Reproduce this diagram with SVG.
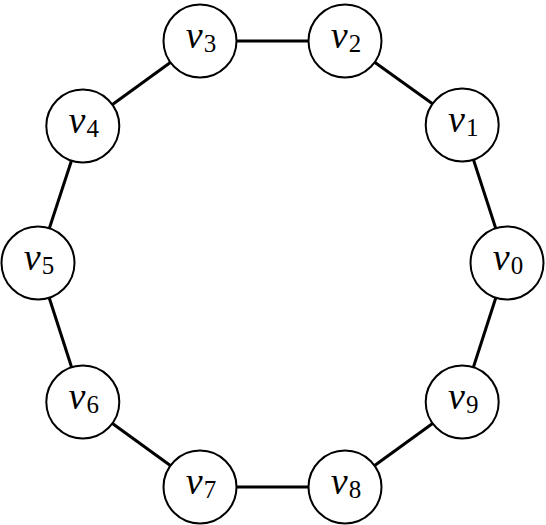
<svg xmlns="http://www.w3.org/2000/svg" width="546" height="525" viewBox="0 0 546 525">
<style>
.edge{stroke:#000;stroke-width:3;fill:none}
.node circle{fill:#fff;stroke:#000;stroke-width:2}
.node text{font-family:"Liberation Serif","Times New Roman",serif;font-size:38px;text-anchor:middle;fill:#000}
.node .v{font-style:italic}
.node .s{font-size:25px;font-style:normal}
</style>
<rect width="546" height="525" fill="#fff"/>
<g id="edges">
<line class="edge" x1="507" y1="263" x2="462.2" y2="125"/>
<line class="edge" x1="462.2" y1="125" x2="345" y2="41"/>
<line class="edge" x1="345" y1="41" x2="200" y2="41"/>
<line class="edge" x1="200" y1="41" x2="82.8" y2="126"/>
<line class="edge" x1="82.8" y1="126" x2="38" y2="263"/>
<line class="edge" x1="38" y1="263" x2="82.8" y2="402"/>
<line class="edge" x1="82.8" y1="402" x2="200" y2="487"/>
<line class="edge" x1="200" y1="487" x2="345" y2="487"/>
<line class="edge" x1="345" y1="487" x2="462.2" y2="402"/>
<line class="edge" x1="462.2" y1="402" x2="507" y2="263"/>
</g>
<g id="v0" class="node"><circle cx="507" cy="263" r="36.5"/><text x="508" y="270"><tspan class="v">v</tspan><tspan class="s" dx="1" dy="4">0</tspan></text></g>
<g id="v1" class="node"><circle cx="462.2" cy="125" r="36.5"/><text x="463.2" y="132"><tspan class="v">v</tspan><tspan class="s" dx="1" dy="4">1</tspan></text></g>
<g id="v2" class="node"><circle cx="345" cy="41" r="36.5"/><text x="346" y="48"><tspan class="v">v</tspan><tspan class="s" dx="1" dy="4">2</tspan></text></g>
<g id="v3" class="node"><circle cx="200" cy="41" r="36.5"/><text x="201" y="48"><tspan class="v">v</tspan><tspan class="s" dx="1" dy="4">3</tspan></text></g>
<g id="v4" class="node"><circle cx="82.8" cy="126" r="36.5"/><text x="83.8" y="133"><tspan class="v">v</tspan><tspan class="s" dx="1" dy="4">4</tspan></text></g>
<g id="v5" class="node"><circle cx="38" cy="263" r="36.5"/><text x="39" y="270"><tspan class="v">v</tspan><tspan class="s" dx="1" dy="4">5</tspan></text></g>
<g id="v6" class="node"><circle cx="82.8" cy="402" r="36.5"/><text x="83.8" y="409"><tspan class="v">v</tspan><tspan class="s" dx="1" dy="4">6</tspan></text></g>
<g id="v7" class="node"><circle cx="200" cy="487" r="36.5"/><text x="201" y="494"><tspan class="v">v</tspan><tspan class="s" dx="1" dy="4">7</tspan></text></g>
<g id="v8" class="node"><circle cx="345" cy="487" r="36.5"/><text x="346" y="494"><tspan class="v">v</tspan><tspan class="s" dx="1" dy="4">8</tspan></text></g>
<g id="v9" class="node"><circle cx="462.2" cy="402" r="36.5"/><text x="463.2" y="409"><tspan class="v">v</tspan><tspan class="s" dx="1" dy="4">9</tspan></text></g>
</svg>
